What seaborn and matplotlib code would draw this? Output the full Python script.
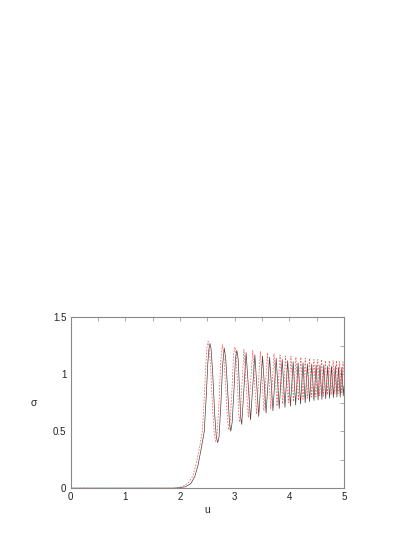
import numpy as np
import pandas as pd
import matplotlib
matplotlib.use("Agg")
import matplotlib.pyplot as plt
import seaborn as sns
from matplotlib.ticker import MultipleLocator

# solid (black) curve: points
u_black = [0, 1.9, 2.0, 2.1, 2.2, 2.27, 2.33, 2.39, 2.445, 2.48, 2.51, 2.53, 2.55,
           2.57, 2.60, 2.635, 2.665, 2.69, 2.715, 2.75, 2.78, 2.81, 2.835, 2.87,
           2.905, 2.93, 2.955, 2.99, 3.015, 3.04, 3.065, 3.09, 3.11, 3.13,
           3.21, 3.29, 3.37, 3.44, 3.51, 3.575, 3.64, 3.70, 3.76, 3.815, 3.87,
           3.92, 3.97, 4.02, 4.07, 4.115, 4.16, 4.205, 4.25, 4.29, 4.33, 4.37,
           4.41, 4.45, 4.49, 4.525, 4.56, 4.595, 4.63, 4.665, 4.70, 4.735, 4.77,
           4.805, 4.84, 4.87, 4.90, 4.93, 4.96, 4.985, 5.0]
s_black = [0, 0, 0.004, 0.012, 0.04, 0.1, 0.2, 0.35, 0.5, 0.8, 1.1, 1.22, 1.27,
           1.22, 1.0, 0.65, 0.45, 0.40, 0.45, 0.75, 1.08, 1.23, 1.15, 0.88,
           0.58, 0.50, 0.58, 0.88, 1.14, 1.21, 1.13, 0.85, 0.62, 0.56,
           1.19, 0.60, 1.17, 0.63, 1.16, 0.66, 1.15, 0.68, 1.14, 0.70, 1.13,
           0.71, 1.12, 0.72, 1.11, 0.73, 1.10, 0.74, 1.10, 0.75, 1.09, 0.76,
           1.09, 0.77, 1.08, 0.775, 1.08, 0.78, 1.08, 0.785, 1.07, 0.79, 1.07,
           0.795, 1.07, 0.80, 1.06, 0.80, 1.06, 0.81, 0.9]

# dashed (red) curve
u_red = [0, 1.85, 1.95, 2.05, 2.15, 2.23, 2.29, 2.355, 2.41, 2.445, 2.475, 2.495,
         2.515, 2.535, 2.565, 2.60, 2.63, 2.655, 2.68, 2.715, 2.745, 2.775, 2.80,
         2.835, 2.87, 2.895, 2.92, 2.955, 2.98, 3.005, 3.03, 3.055, 3.075, 3.095,
         3.17, 3.25, 3.33, 3.40, 3.47, 3.535, 3.60, 3.66, 3.72, 3.775, 3.83,
         3.88, 3.93, 3.98, 4.03, 4.075, 4.12, 4.165, 4.21, 4.25, 4.29, 4.33,
         4.37, 4.41, 4.45, 4.485, 4.52, 4.555, 4.59, 4.625, 4.66, 4.695, 4.73,
         4.765, 4.80, 4.83, 4.86, 4.89, 4.92, 4.95, 4.98, 5.0]
s_red = [0, 0, 0.004, 0.013, 0.045, 0.1, 0.2, 0.35, 0.5, 0.8, 1.1, 1.24,
         1.29, 1.24, 1.02, 0.67, 0.47, 0.41, 0.47, 0.77, 1.1, 1.26, 1.18,
         0.9, 0.6, 0.51, 0.6, 0.9, 1.17, 1.24, 1.16, 0.88, 0.64, 0.58,
         1.22, 0.62, 1.21, 0.65, 1.20, 0.68, 1.19, 0.70, 1.18, 0.72, 1.17,
         0.74, 1.16, 0.75, 1.16, 0.76, 1.15, 0.77, 1.15, 0.78, 1.14, 0.79,
         1.14, 0.80, 1.13, 0.80, 1.13, 0.81, 1.13, 0.81, 1.12, 0.82, 1.12,
         0.82, 1.12, 0.83, 1.12, 0.83, 1.11, 0.84, 1.11, 1.0]

x_ticks = [0, 1, 2, 3, 4, 5]
y_ticks = [0, 0.5, 1, 1.5]
y_tick_labels = ["0", "0.5", "1", "1.5"]

df_black = pd.DataFrame({"u": u_black, "sigma": s_black})
df_red = pd.DataFrame({"u": u_red, "sigma": s_red})

sns.set_style("white")
plt.rcParams["font.family"] = ["Liberation Sans", "DejaVu Sans"]

fig = plt.figure(figsize=(4.15, 5.37), dpi=100)
ax = fig.add_axes([0.170, 0.091, 0.659, 0.318])

sns.lineplot(data=df_black, x="u", y="sigma", sort=False, color="#444444",
             linewidth=0.5, ax=ax)
sns.lineplot(data=df_red, x="u", y="sigma", sort=False, color="#ff5050",
             linewidth=0.5, linestyle=(0, (2.5, 2)), ax=ax)

ax.set_xlim(0, 5)
ax.set_ylim(0, 1.5)
ax.set_xticks(x_ticks)
ax.set_xticklabels([str(t) for t in x_ticks])
ax.set_yticks(y_ticks)
ax.set_yticklabels(y_tick_labels)
ax.xaxis.set_minor_locator(MultipleLocator(0.5))
ax.yaxis.set_minor_locator(MultipleLocator(0.25))
ax.tick_params(which="both", direction="in", length=3, width=0.5,
               color="#888888", top=True, right=True, labelsize=7,
               labelcolor="#222222", pad=3)

for sp in ax.spines.values():
    sp.set_color("#888888")
    sp.set_linewidth(0.8)

ax.set_xlabel("u", fontsize=7.5, labelpad=2)
ax.set_ylabel("σ", fontsize=7.5, rotation=0, labelpad=14, va="center")

fig.savefig("out.png", dpi=100)
